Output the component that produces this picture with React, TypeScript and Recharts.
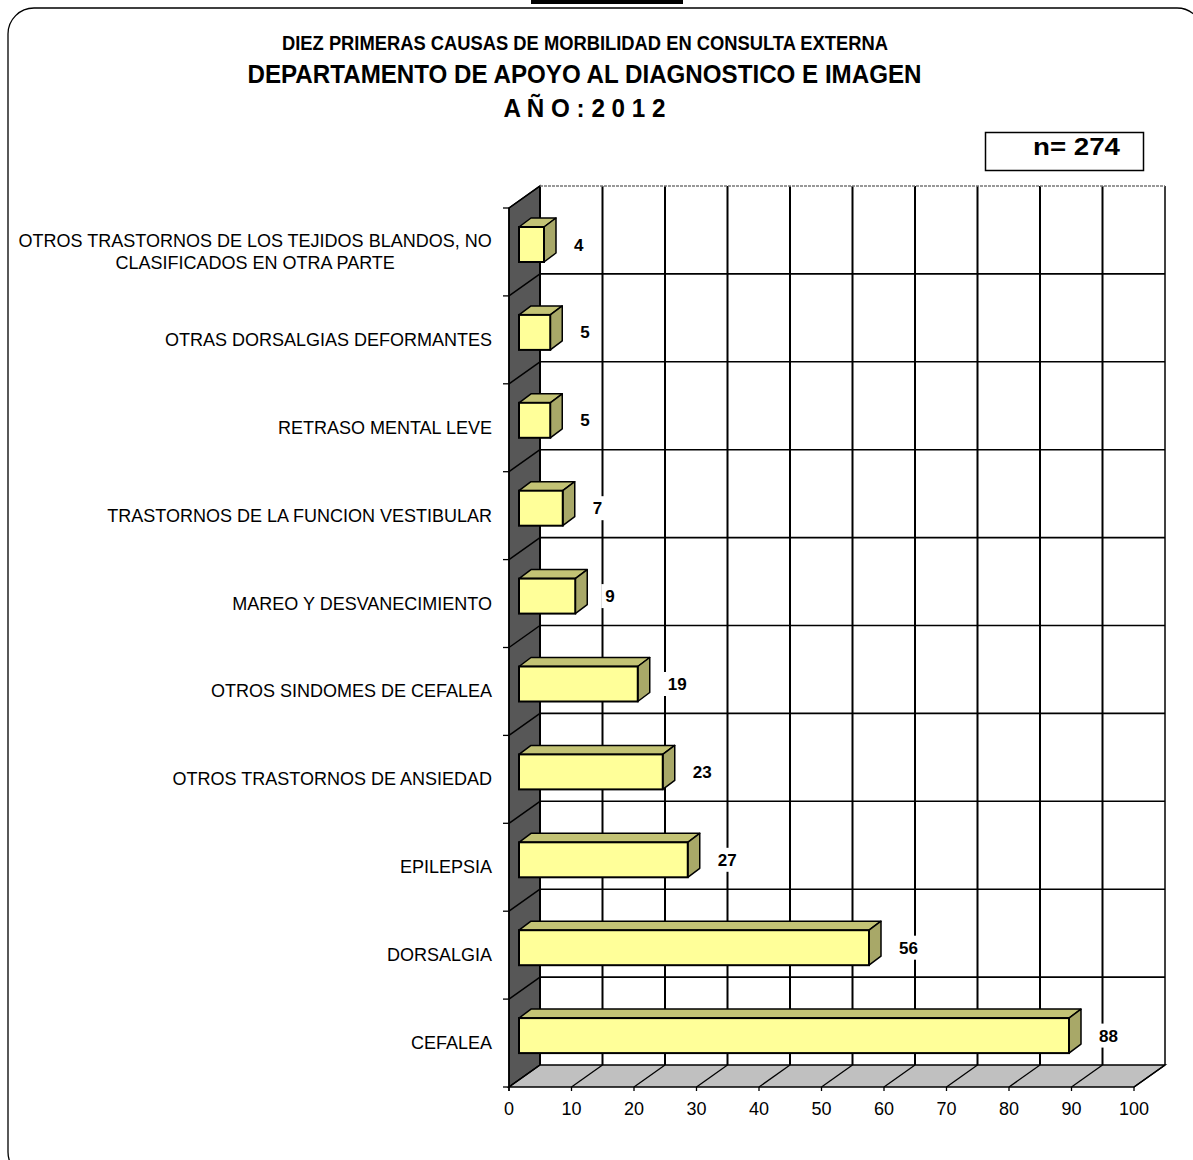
import React from 'react';
import { BarChart, Bar, XAxis, YAxis, ReferenceArea, LabelList } from 'recharts';

// datos
const causas = [
  'OTROS TRASTORNOS DE LOS TEJIDOS BLANDOS, NO\nCLASIFICADOS EN OTRA PARTE',
  'OTRAS DORSALGIAS DEFORMANTES',
  'RETRASO MENTAL LEVE',
  'TRASTORNOS DE LA FUNCION VESTIBULAR',
  'MAREO Y DESVANECIMIENTO',
  'OTROS SINDOMES DE CEFALEA',
  'OTROS TRASTORNOS DE ANSIEDAD',
  'EPILEPSIA',
  'DORSALGIA',
  'CEFALEA',
];
const casos = [4, 5, 5, 7, 9, 19, 23, 27, 56, 88];
const xTicks = [0, 10, 20, 30, 40, 50, 60, 70, 80, 90, 100];
const titulos = [
  'DIEZ PRIMERAS CAUSAS DE MORBILIDAD EN CONSULTA EXTERNA',
  'DEPARTAMENTO DE APOYO AL DIAGNOSTICO E IMAGEN',
  'A Ñ O : 2 0 1 2',
];
const total = 274;

const data = causas.map((name, i) => ({ name, value: casos[i] }));

const W = 1193;
const H = 1160;
const FONT = "'Liberation Sans', Arial, Helvetica, sans-serif";
const NARROW = "'Liberation Sans Narrow', 'Arial Narrow', 'Liberation Sans', Arial, sans-serif";

// profundidad 3D
const DX = 31;
const DY = 22;
const BAR_OFF_X = 10;
const BAR_OFF_Y = 7;
const BAR_DX = 12;
const BAR_DY = 9;

let ctx: CanvasRenderingContext2D | null = null;
function measure(s: string, font: string) {
  if (!ctx) ctx = document.createElement('canvas').getContext('2d');
  if (!ctx) return s.length * 9;
  ctx.font = font;
  return ctx.measureText(s).width;
}

function Walls(props: any) {
  const { x, y, width, height } = props;
  const bottom = y + height;
  const right = x + width;
  const n = causas.length;
  const band = height / n;
  const step = width / (xTicks.length - 1);
  const els: any[] = [];
  // pared del fondo
  els.push(<rect key="back" x={x + DX} y={y - DY} width={width} height={height} fill="#fff" />);
  // pared izquierda
  els.push(
    <polygon key="left" points={`${x},${y} ${x + DX},${y - DY} ${x + DX},${bottom - DY} ${x},${bottom}`}
      fill="#575757" stroke="#000" strokeWidth={1.5} />
  );
  // piso
  els.push(
    <polygon key="floor" points={`${x},${bottom} ${right},${bottom} ${right + DX},${bottom - DY} ${x + DX},${bottom - DY}`}
      fill="#c0c0c0" stroke="#000" strokeWidth={1.5} />
  );
  for (let i = 0; i < xTicks.length; i++) {
    const gx = x + i * step;
    els.push(<line key={`v${i}`} x1={gx + DX} y1={y - DY} x2={gx + DX} y2={bottom - DY} stroke="#000" strokeWidth={i === xTicks.length - 1 ? 1.5 : 2} />);
    els.push(<line key={`f${i}`} x1={gx} y1={bottom} x2={gx + DX} y2={bottom - DY} stroke="#000" strokeWidth={1.3} />);
    els.push(<line key={`ft${i}`} x1={gx} y1={bottom} x2={gx} y2={bottom + 4} stroke="#000" strokeWidth={1.3} />);
  }
  for (let k = 0; k <= n; k++) {
    const gy = y + k * band;
    if (k > 0 && k < n) {
      els.push(<line key={`h${k}`} x1={x + DX} y1={gy - DY} x2={right + DX} y2={gy - DY} stroke="#000" strokeWidth={1.6} />);
    }
    if (k < n) {
      els.push(<line key={`d${k}`} x1={x} y1={gy} x2={x + DX} y2={gy - DY} stroke="#000" strokeWidth={1.5} />);
    }
    els.push(<line key={`t${k}`} x1={x - 6} y1={gy} x2={x} y2={gy} stroke="#000" strokeWidth={1.3} />);
  }
  // borde superior punteado del fondo
  els.push(<line key="top" x1={x + DX} y1={y - DY} x2={right + DX} y2={y - DY} stroke="#777" strokeWidth={1.5} strokeDasharray="3 1" />);
  els.push(<line key="axis" x1={x} y1={y} x2={x} y2={bottom + 4} stroke="#000" strokeWidth={1.5} />);
  return <g>{els}</g>;
}

function Bar3D(props: any) {
  const { x, y, width, height } = props;
  const fx = x + BAR_OFF_X;
  const fy = y - BAR_OFF_Y;
  const w = Math.max(width, 0);
  return (
    <g>
      <polygon points={`${fx},${fy} ${fx + w},${fy} ${fx + w + BAR_DX},${fy - BAR_DY} ${fx + BAR_DX},${fy - BAR_DY}`}
        fill="#c3c375" stroke="#000" strokeWidth={1.5} strokeLinejoin="round" />
      <polygon points={`${fx + w},${fy} ${fx + w + BAR_DX},${fy - BAR_DY} ${fx + w + BAR_DX},${fy + height - BAR_DY} ${fx + w},${fy + height}`}
        fill="#a8a868" stroke="#000" strokeWidth={1.5} strokeLinejoin="round" />
      <rect x={fx} y={fy} width={w} height={height} fill="#ffff99" stroke="#000" strokeWidth={2} />
    </g>
  );
}

function ValueLabel(props: any) {
  const { x, y, width, height, value } = props;
  const tx = x + width + BAR_OFF_X + 30;
  const cy = y + height / 2 - BAR_OFF_Y;
  const tw = measure(String(value), `bold 17px ${FONT}`);
  return (
    <g>
      <rect x={tx - 4} y={cy - 12} width={tw + 8} height={24} fill="#fff" />
      <text x={tx} y={cy + 6} fontFamily={FONT} fontWeight="bold" fontSize={17} fill="#000">
        {value}
      </text>
    </g>
  );
}

function CategoryTick(props: any) {
  const { x, y, payload } = props;
  const lines = String(payload.value).split('\n');
  const font = `18px ${FONT}`;
  const widths = lines.map((l) => measure(l, font));
  const blockW = Math.max(...widths);
  const cx = x - blockW / 2;
  const lh = 22;
  const y0 = y - ((lines.length - 1) * lh) / 2 + 6;
  return (
    <g>
      {lines.map((l, i) => (
        <text key={i} x={lines.length > 1 ? cx : x} y={y0 + i * lh} textAnchor={lines.length > 1 ? 'middle' : 'end'}
          fontFamily={FONT} fontSize={18} fill="#000">
          {l}
        </text>
      ))}
    </g>
  );
}

function NumberTick(props: any) {
  const { x, y, payload } = props;
  return (
    <text x={x} y={y + 28} textAnchor="middle" fontFamily={FONT} fontSize={18} fill="#000">
      {payload.value}
    </text>
  );
}

export default function App() {
  return (
    <div style={{ position: 'absolute', left: 0, top: 0, width: W, height: H, background: '#fff', overflow: 'hidden' }}>
      <svg width={W} height={H} style={{ position: 'absolute', left: 0, top: 0 }}>
        <rect x={531} y={0} width={152} height={4} fill="#000" />
        <rect x={8} y={8} width={1195} height={1170} rx={26} ry={26} fill="#fff" stroke="#000" strokeWidth={1.3} />
      </svg>
      <div style={{ position: 'absolute', left: 0, top: 0 }}>
        <BarChart width={W} height={H} data={data} layout="vertical"
          margin={{ top: 208, right: 59, bottom: 43, left: 9 }} barCategoryGap={0}>
          <XAxis type="number" domain={[0, 100]} ticks={xTicks} interval={0} axisLine={false} tickLine={false}
            tickSize={0} tickMargin={0} height={30} tick={<NumberTick />} />
          <YAxis type="category" dataKey="name" width={500} interval={0} axisLine={false} tickLine={false}
            tickSize={0} tickMargin={17} tick={<CategoryTick />} />
          <ReferenceArea x1={0} x2={100} shape={<Walls />} ifOverflow="visible" />
          <Bar dataKey="value" barSize={35} shape={<Bar3D />} isAnimationActive={false}>
            <LabelList dataKey="value" content={<ValueLabel />} />
          </Bar>
        </BarChart>
      </div>
      <svg width={W} height={H} style={{ position: 'absolute', left: 0, top: 0, pointerEvents: 'none' }}>
        <text x={585} y={50} textAnchor="middle" fontFamily={NARROW} fontWeight="bold" fontSize={20}
          textLength={606} lengthAdjust="spacingAndGlyphs">{titulos[0]}</text>
        <text x={584.5} y={83} textAnchor="middle" fontFamily={NARROW} fontWeight="bold" fontSize={26}
          textLength={674} lengthAdjust="spacingAndGlyphs">{titulos[1]}</text>
        <text x={584.5} y={117} textAnchor="middle" fontFamily={NARROW} fontWeight="bold" fontSize={26}
          textLength={162} lengthAdjust="spacingAndGlyphs">{titulos[2]}</text>
        <rect x={985.5} y={132.5} width={158} height={38} fill="#fff" stroke="#000" strokeWidth={1.5} />
        <text x={1033} y={155} fontFamily={FONT} fontWeight="bold" fontSize={24} textLength={87}
          lengthAdjust="spacingAndGlyphs">{`n= ${total}`}</text>
      </svg>
    </div>
  );
}
